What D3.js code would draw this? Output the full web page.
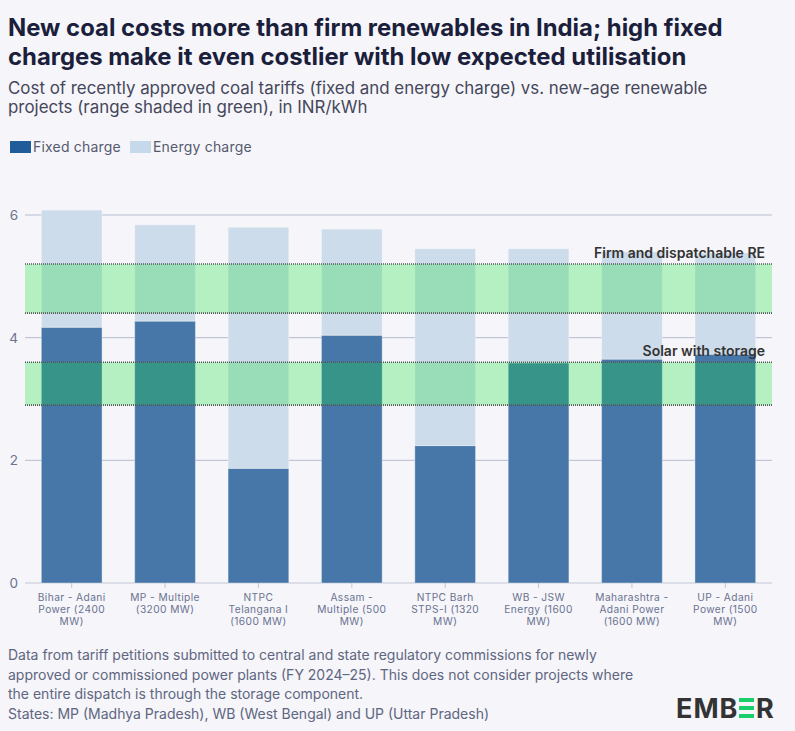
<!doctype html>
<html lang="en">
<head>
<meta charset="UTF-8">
<title>New coal vs firm renewables in India</title>
<script src="https://d3js.org/d3.v7.min.js"></script>
<style>
  body { margin: 0; background: #f5f5fa; }
  svg { display: block; font-family: "Inter", "Noto Sans", sans-serif; }
</style>
</head>
<body>
<svg id="chart" width="795" height="731"></svg>
<script>
// data (INR/kWh)
const plants = [
  ["Bihar - Adani", "Power (2400", "MW)"],
  ["MP - Multiple", "(3200 MW)"],
  ["NTPC", "Telangana I", "(1600 MW)"],
  ["Assam -", "Multiple (500", "MW)"],
  ["NTPC Barh", "STPS-I (1320", "MW)"],
  ["WB - JSW", "Energy (1600", "MW)"],
  ["Maharashtra -", "Adani Power", "(1600 MW)"],
  ["UP - Adani", "Power (1500", "MW)"]
];
const fixedCharge = [4.17, 4.27, 1.87, 4.04, 2.24, 3.59, 3.65, 3.73];
const energyCharge = [1.91, 1.57, 3.93, 1.73, 3.21, 1.86, 1.75, 1.65];
const yTicks = [0, 2, 4, 6];
const reBands = [
  { name: "Firm and dispatchable RE", lo: 4.4, hi: 5.2 },
  { name: "Solar with storage", lo: 2.9, hi: 3.6 }
];

const svg = d3.select("#chart");
const left = 25, right = 772;

// title + subtitle
svg.append("text").attr("x", 8).attr("y", 36)
  .attr("font-size", 23.9).attr("font-weight", 700).attr("fill", "#1b1f3b")
  .text("New coal costs more than firm renewables in India; high fixed");
svg.append("text").attr("x", 8).attr("y", 65)
  .attr("font-size", 23.9).attr("font-weight", 700).attr("fill", "#1b1f3b")
  .text("charges make it even costlier with low expected utilisation");
svg.append("text").attr("x", 8).attr("y", 94)
  .attr("font-size", 16.9).attr("fill", "#45475a")
  .text("Cost of recently approved coal tariffs (fixed and energy charge) vs. new-age renewable");
svg.append("text").attr("x", 8).attr("y", 113)
  .attr("font-size", 16.9).attr("fill", "#45475a")
  .text("projects (range shaded in green), in INR/kWh");

// legend
const legend = [["Fixed charge", "#1f5c99", 10], ["Energy charge", "#c6d9ea", 130]];
legend.forEach(([label, col, lx]) => {
  svg.append("rect").attr("x", lx).attr("y", 141).attr("width", 21).attr("height", 12).attr("fill", col);
  svg.append("text").attr("x", lx + 23).attr("y", 152)
    .attr("font-size", 14).attr("letter-spacing", 0.2).attr("fill", "#555a6e").text(label);
});

const x = d3.scaleBand().domain(d3.range(plants.length)).range([left, right]).paddingInner(0.35).paddingOuter(0.175);
const y = d3.scaleLinear().domain([0, 6]).range([583, 215]);

// gridlines
svg.append("g").selectAll("line").data(yTicks).join("line")
  .attr("x1", left).attr("x2", right)
  .attr("y1", d => y(d)).attr("y2", d => y(d))
  .attr("stroke", d => d === 0 ? "#c3c7d4" : "#b7bbcf").attr("stroke-width", 1);
svg.append("g").selectAll("text").data(yTicks).join("text")
  .attr("x", 18).attr("y", d => y(d) + 5)
  .attr("text-anchor", "end").attr("font-size", 13.5).attr("fill", "#6b7390")
  .text(d => d);

// bars
const bars = svg.append("g");
bars.selectAll(".fixed").data(fixedCharge).join("rect")
  .attr("x", (d, i) => x(i)).attr("width", x.bandwidth())
  .attr("y", d => y(d)).attr("height", d => y(0) - y(d))
  .attr("fill", "#4677a8").attr("stroke", "#ffffff").attr("stroke-opacity", 0.35);
bars.selectAll(".energy").data(energyCharge).join("rect")
  .attr("x", (d, i) => x(i)).attr("width", x.bandwidth())
  .attr("y", (d, i) => y(fixedCharge[i] + d))
  .attr("height", (d, i) => y(fixedCharge[i]) - y(fixedCharge[i] + d))
  .attr("fill", "#cddcea").attr("stroke", "#ffffff").attr("stroke-opacity", 0.35);

// x ticks + labels
const xAxis = svg.append("g");
plants.forEach((lines, i) => {
  const cx = x(i) + x.bandwidth() / 2;
  xAxis.append("line").attr("x1", cx).attr("x2", cx).attr("y1", y(0)).attr("y2", y(0) + 5)
    .attr("stroke", "#c3c7d4");
  const t = xAxis.append("text").attr("text-anchor", "middle")
    .attr("font-size", 10.2).attr("letter-spacing", 0.4).attr("fill", "#6b7390");
  lines.forEach((ln, k) => {
    t.append("tspan").attr("x", cx).attr("y", 601 + k * 12).text(ln);
  });
});

// renewable ranges
reBands.forEach(b => {
  svg.append("rect").attr("x", left).attr("width", right - left)
    .attr("y", y(b.hi)).attr("height", y(b.lo) - y(b.hi))
    .attr("fill", "rgb(16,227,54)").attr("fill-opacity", 0.28);
  [b.lo, b.hi].forEach(v => {
    svg.append("line").attr("x1", left).attr("x2", right)
      .attr("y1", y(v)).attr("y2", y(v))
      .attr("stroke", "#555").attr("stroke-width", 1.6).attr("stroke-dasharray", "1 1");
  });
  svg.append("text").attr("x", 765).attr("y", y(b.hi) - 6)
    .attr("text-anchor", "end").attr("font-size", 14).attr("font-weight", 600)
    .attr("fill", "#333").text(b.name);
});

// footnote
const notes = [
  "Data from tariff petitions submitted to central and state regulatory commissions for newly",
  "approved or commissioned power plants (FY 2024\u201325). This does not consider projects where",
  "the entire dispatch is through the storage component.",
  "States: MP (Madhya Pradesh), WB (West Bengal) and UP (Uttar Pradesh)"
];
notes.forEach((n, i) => {
  svg.append("text").attr("x", 8).attr("y", 660 + i * 19.5)
    .attr("font-size", 14).attr("fill", "#5f6680").text(n);
});

// logo
const logo = svg.append("g");
logo.append("text").attr("x", 676).attr("y", 718)
  .attr("font-size", 27).attr("font-weight", 700).attr("fill", "#333")
  .attr("letter-spacing", 1).text("EMB");
[698, 706, 714].forEach(yy => {
  logo.append("rect").attr("x", 739).attr("y", yy).attr("width", 15).attr("height", 4).attr("fill", "#19cf6c");
});
logo.append("text").attr("x", 756).attr("y", 718)
  .attr("font-size", 27).attr("font-weight", 700).attr("fill", "#333").text("R");
</script>
</body>
</html>
